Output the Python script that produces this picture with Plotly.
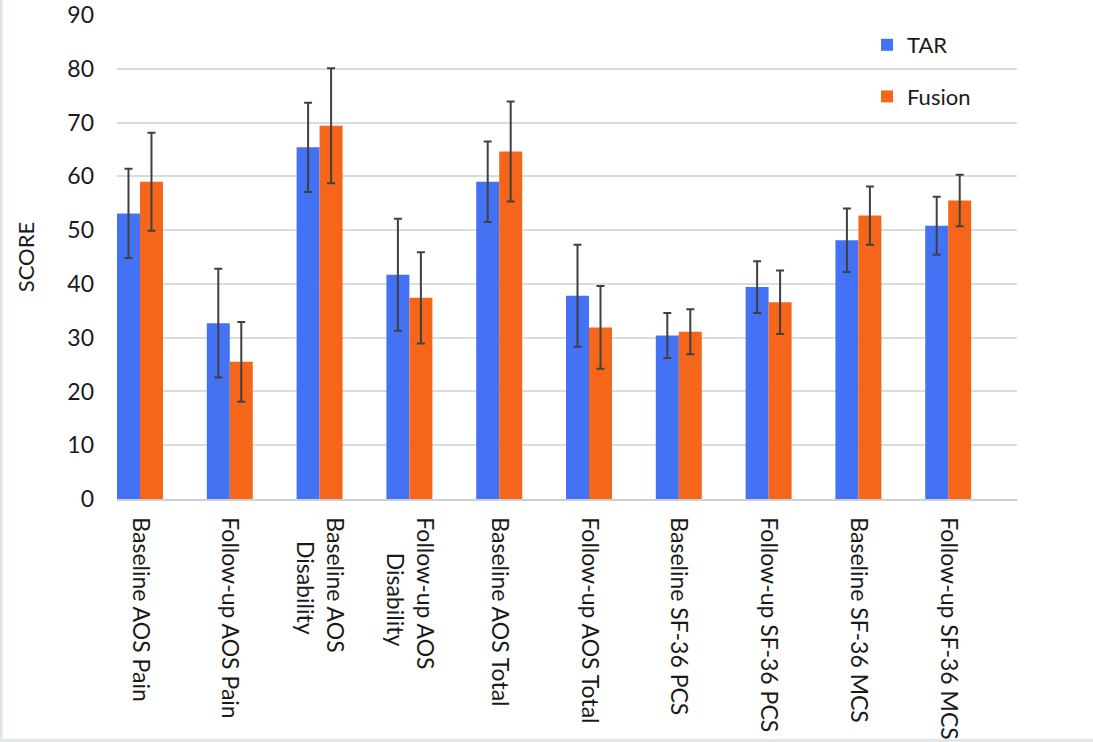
import plotly.graph_objects as go

categories = [
    "Baseline AOS Pain",
    "Follow-up AOS Pain",
    "Baseline AOS<br>\u00a0\u00a0\u00a0\u00a0Disability",
    "Follow-up AOS<br>\u00a0\u00a0\u00a0\u00a0\u00a0\u00a0Disability",
    "Baseline AOS Total",
    "Follow-up AOS Total",
    "Baseline SF-36 PCS",
    "Follow-up SF-36 PCS",
    "Baseline SF-36 MCS",
    "Follow-up SF-36 MCS",
]
tar_mean = [53.1, 32.7, 65.4, 41.7, 59.0, 37.8, 30.4, 39.4, 48.1, 50.8]
tar_sd = [8.3, 10.1, 8.3, 10.4, 7.5, 9.5, 4.2, 4.8, 5.9, 5.4]
fusion_mean = [59.0, 25.5, 69.4, 37.4, 64.6, 31.9, 31.1, 36.6, 52.7, 55.5]
fusion_sd = [9.1, 7.4, 10.7, 8.5, 9.3, 7.7, 4.2, 5.9, 5.4, 4.8]
y_ticks = [0, 10, 20, 30, 40, 50, 60, 70, 80, 90]

FONT = "Lato"
ERR_COLOR = "#404040"

fig = go.Figure()
fig.add_trace(go.Bar(
    name="TAR", x=categories, y=tar_mean,
    marker=dict(color="#4472f4", line=dict(width=0)),
    error_y=dict(type="data", array=tar_sd, visible=True,
                 color=ERR_COLOR, thickness=2, width=4),
    legendgroup="a",
))
fig.add_trace(go.Bar(
    name="Fusion", x=categories, y=fusion_mean,
    marker=dict(color="#f5661b", line=dict(width=0)),
    error_y=dict(type="data", array=fusion_sd, visible=True,
                 color=ERR_COLOR, thickness=2, width=4),
    legendgroup="b",
))

W, H = 1093, 742
L, R, T, B = 117, 76, 15, 243
pw, ph = W - L - R, H - T - B

def px_x(p):
    return (p - L) / pw

def px_y(p):
    return (H - B - p) / ph

fig.update_layout(
    width=W, height=H,
    margin=dict(l=L, r=R, t=T, b=B, autoexpand=False),
    paper_bgcolor="white", plot_bgcolor="white",
    font=dict(family=FONT, size=22, color="#1a1a1a"),
    barmode="group", bargap=0.488, bargroupgap=0,
    showlegend=True,
    legend=dict(
        x=px_x(867), y=px_y(24), xanchor="left", yanchor="top",
        traceorder="grouped", tracegroupgap=20,
        font=dict(family=FONT, size=22, color="#1a1a1a"),
        bgcolor="rgba(0,0,0,0)",
    ),
    xaxis=dict(
        type="category",
        range=[-0.256, 9.766],
        tickangle=90,
        showgrid=False,
        showline=True, linecolor="#c9d0d6", linewidth=1.5,
        ticks="", ticklabelstandoff=12,
        tickfont=dict(family=FONT, size=23),
    ),
    yaxis=dict(
        range=[0, 90],
        tickvals=y_ticks,
        showgrid=True, gridcolor="#d9dddc", gridwidth=1.5,
        zeroline=False, showline=False,
        ticks="", ticklabelstandoff=22,
        tickfont=dict(family=FONT, size=23),
        title=dict(text="SCORE", standoff=26,
                   font=dict(family=FONT, size=22)),
    ),
    shapes=[
        dict(type="rect", xref="paper", yref="paper",
             x0=px_x(0), x1=px_x(2.5), y0=px_y(742), y1=px_y(0),
             fillcolor="#dde5e2", line=dict(width=0), layer="above"),
        dict(type="rect", xref="paper", yref="paper",
             x0=px_x(0), x1=px_x(1093), y0=px_y(742), y1=px_y(739),
             fillcolor="#e2e6e4", line=dict(width=0), layer="above"),
    ],
)

fig.write_html("out.html", config={"displayModeBar": False},
               post_script="document.body.style.margin='0';")
